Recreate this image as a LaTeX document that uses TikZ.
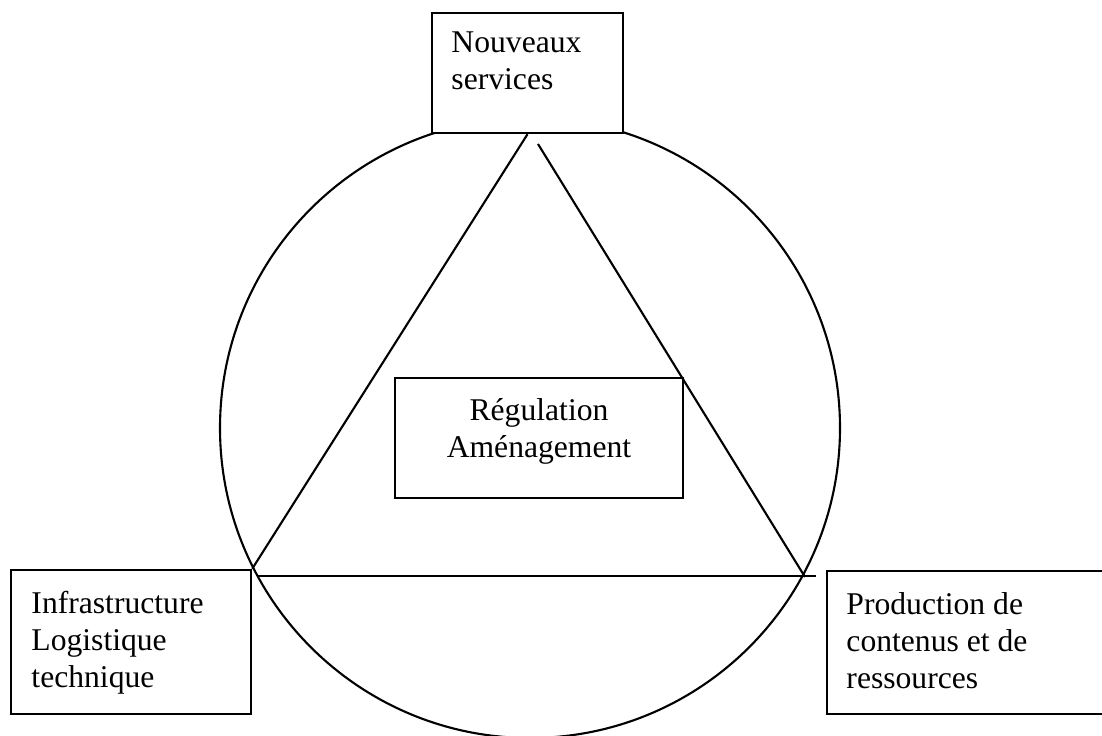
\documentclass[tikz,border=0pt]{standalone}
\usepackage{fontspec}
\setmainfont{Liberation Serif}
\usetikzlibrary{positioning}
\tikzset{cadre/.style={draw=black, line width=0.7pt, inner sep=0pt},
texte/.style={inner sep=0pt, font=\fontsize{9}{10.5}\selectfont}}

\begin{document}
\begin{tikzpicture}

    \useasboundingbox (0,0) rectangle (11.02,7.36);
    \clip (0,0) rectangle (11.02,7.36);

    %Cercle
    \draw[line width=0.6pt] (5.30,3.08) circle (3.10);

    %Cadres
    \node[cadre, fill=white,
        minimum width = 1.91cm,
        minimum height = 1.20cm] (services) at (5.275,6.63) {};
    \node[cadre, fill=white,
        minimum width = 2.40cm,
        minimum height = 1.44cm] (infra) at (1.31,0.94) {};
    \node[cadre, fill=white,
        minimum width = 2.90cm,
        minimum height = 1.43cm] (prod) at (9.72,0.935) {};
    \node[cadre, fill=white,
        minimum width = 2.88cm,
        minimum height = 1.20cm] (regul) at (5.39,2.98) {};

    %Textes
    \node[texte, anchor=north west, align=left] (servicestxt)
        at ([shift={(0.20,-0.19)}]services.north west) {Nouveaux\\services};
    \node[texte, anchor=north west, align=left] (infratxt)
        at ([shift={(0.21,-0.22)}]infra.north west) {Infrastructure\\Logistique\\technique};
    \node[texte, anchor=north west, align=left] (prodtxt)
        at ([shift={(0.20,-0.22)}]prod.north west) {Production de\\contenus et de\\ressources};
    \node[texte, anchor=north, align=center] (regultxt)
        at ([shift={(0,-0.21)}]regul.north) {Régulation\\Aménagement};

    %Triangle
    \coordinate (hautdroit) at (5.38,5.92);
    \coordinate (basdroit) at (8.05,1.59);
    \coordinate (ligneg) at (2.58,1.60);
    \coordinate (ligned) at (8.16,1.60);
    \draw[line width=0.6pt] (services.south) -- (infra.north east);
    \draw[line width=0.6pt] (hautdroit) -- (basdroit);
    \draw[line width=0.6pt] (ligneg) -- (ligned);

\end{tikzpicture}
\end{document}
